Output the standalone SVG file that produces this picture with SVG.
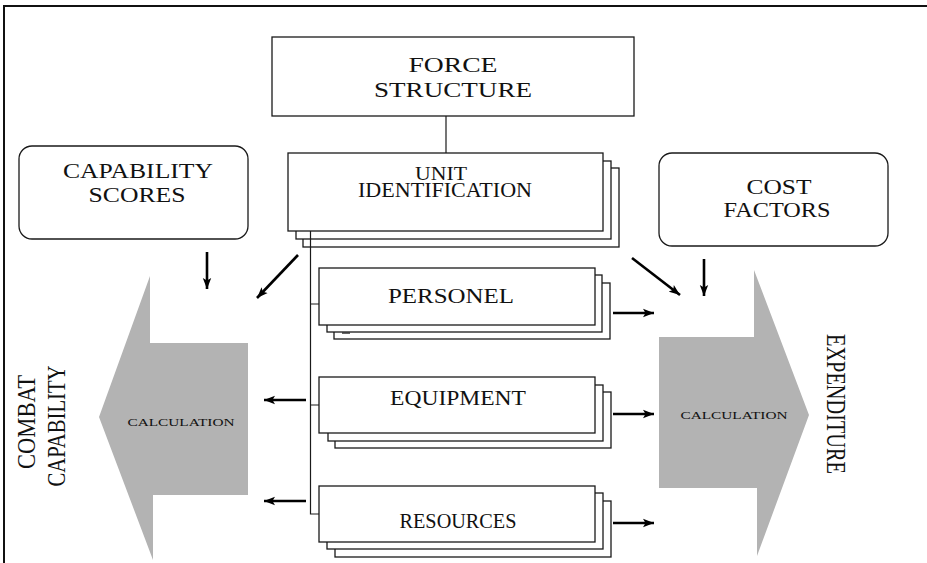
<svg xmlns="http://www.w3.org/2000/svg" width="927" height="563" viewBox="0 0 927 563">
<style>
.box{fill:#fff;stroke:#1a1a1a;stroke-width:1.3}
.rbox{fill:#fff;stroke:#1a1a1a;stroke-width:1.3}
.big{fill:#b3b3b3;stroke:none}
.t{font-family:"Liberation Serif","Times New Roman",serif;fill:#111;text-anchor:middle}
.thin{stroke:#1a1a1a;stroke-width:1.2;fill:none}
.arr{stroke:#000;stroke-width:2.6;fill:none;marker-end:url(#ah)}
.frame{stroke:#111;stroke-width:2;fill:none}
</style>
<defs>
<marker id="ah" markerUnits="userSpaceOnUse" markerWidth="12" markerHeight="10" refX="11" refY="5" orient="auto">
<path d="M0,0.8 L11,5 L0,9.2 L2.5,5 z" fill="#000"/>
</marker>
</defs>
<rect width="927" height="563" fill="#fff"/>
<path class="frame" d="M4,563 L4,6 L927,6"/>

<g id="combat-arrow">
<polygon class="big" points="99,417 150,276 150,343 248,343 248,495 153,495 153,560"/>
<text class="t" x="181" y="426" font-size="11" textLength="107" lengthAdjust="spacingAndGlyphs">CALCULATION</text>
</g>
<g id="expenditure-arrow">
<polygon class="big" points="659,337 754,337 754,270 809,415 757,556 757,488 659,488"/>
<text class="t" x="734" y="419" font-size="11" textLength="107" lengthAdjust="spacingAndGlyphs">CALCULATION</text>
</g>
<g id="combat-label">
<text class="t" transform="translate(35,422) rotate(-90)" font-size="25" textLength="94" lengthAdjust="spacingAndGlyphs">COMBAT</text>
<text class="t" transform="translate(65,426) rotate(-90)" font-size="25" textLength="121" lengthAdjust="spacingAndGlyphs">CAPABILITY</text>
</g>
<g id="expenditure-label">
<text class="t" transform="translate(827,404) rotate(90)" font-size="27" textLength="140" lengthAdjust="spacingAndGlyphs">EXPENDITURE</text>
</g>

<g id="force-structure">
<rect class="box" x="272" y="37" width="362" height="79"/>
<text class="t" x="453" y="72" font-size="22" textLength="89" lengthAdjust="spacingAndGlyphs">FORCE</text>
<text class="t" x="453" y="97" font-size="22" textLength="158" lengthAdjust="spacingAndGlyphs">STRUCTURE</text>
</g>

<g id="capability-scores">
<rect class="rbox" x="19" y="146" width="229" height="93" rx="13" ry="13"/>
<text class="t" x="138" y="178" font-size="21" textLength="150" lengthAdjust="spacingAndGlyphs">CAPABILITY</text>
<text class="t" x="137" y="202" font-size="21" textLength="97" lengthAdjust="spacingAndGlyphs">SCORES</text>
</g>

<g id="cost-factors">
<rect class="rbox" x="659" y="153" width="229" height="93" rx="13" ry="13"/>
<text class="t" x="779" y="194" font-size="21" textLength="65" lengthAdjust="spacingAndGlyphs">COST</text>
<text class="t" x="777" y="217" font-size="21" textLength="107" lengthAdjust="spacingAndGlyphs">FACTORS</text>
</g>

<g id="unit-identification">
<rect class="box" x="303" y="168" width="316" height="79"/>
<rect class="box" x="296" y="161" width="315" height="78"/>
<rect class="box" x="288" y="153" width="315" height="78"/>
<text class="t" x="441" y="180" font-size="18" textLength="52" lengthAdjust="spacingAndGlyphs">UNIT</text>
<text class="t" x="445" y="197" font-size="20" textLength="174" lengthAdjust="spacingAndGlyphs">IDENTIFICATION</text>
</g>

<g id="personel">
<rect class="box" x="334" y="283" width="276" height="56"/>
<rect class="box" x="327" y="275" width="275" height="57"/>
<line x1="342" y1="333" x2="350" y2="333" stroke="#333" stroke-width="1.5"/>
<rect class="box" x="319" y="268" width="276" height="57"/>
<text class="t" x="451" y="303" font-size="20" textLength="126" lengthAdjust="spacingAndGlyphs">PERSONEL</text>
</g>

<g id="equipment">
<rect class="box" x="335" y="392" width="276" height="56"/>
<rect class="box" x="328" y="385" width="275" height="56"/>
<rect class="box" x="319" y="377" width="276" height="56"/>
<text class="t" x="458" y="405" font-size="20" textLength="136" lengthAdjust="spacingAndGlyphs">EQUIPMENT</text>
</g>

<g id="resources">
<rect class="box" x="335" y="501" width="276" height="56"/>
<rect class="box" x="327" y="493" width="276" height="56"/>
<rect class="box" x="319" y="486" width="276" height="56"/>
<text class="t" x="458" y="528" font-size="20" textLength="117" lengthAdjust="spacingAndGlyphs">RESOURCES</text>
</g>

<g id="connectors">
<line class="thin" x1="446" y1="116" x2="446" y2="153"/>
<path class="thin" d="M310.5,231 L310.5,514 L319,514 M310.5,304 L319,304 M310.5,405 L319,405"/>
<line class="arr" x1="207" y1="252" x2="207" y2="289"/>
<line class="arr" x1="298" y1="255" x2="257" y2="298"/>
<line class="arr" x1="632" y1="258" x2="680" y2="295"/>
<line class="arr" x1="704" y1="259" x2="704" y2="296"/>
<line class="arr" x1="613" y1="313" x2="654" y2="313"/>
<line class="arr" x1="613" y1="414" x2="654" y2="414"/>
<line class="arr" x1="613" y1="523" x2="654" y2="523"/>
<line class="arr" x1="306" y1="400" x2="264" y2="400"/>
<line class="arr" x1="306" y1="501" x2="264" y2="501"/>
</g>
</svg>
